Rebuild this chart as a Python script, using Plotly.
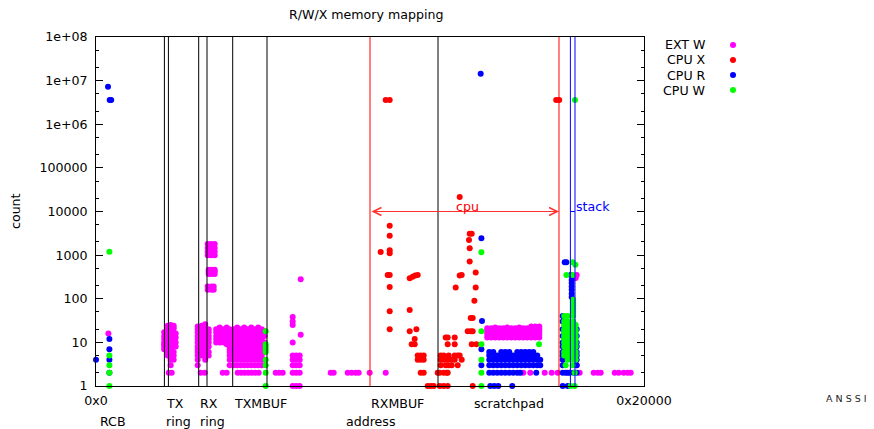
import plotly.graph_objects as go

# ---------------- data (address, [counts]) ----------------
SERIES_NAMES = ["EXT W", "CPU X", "CPU R", "CPU W"]
SERIES_COLORS = ["#ff00ff", "#ff0000", "#0000ff", "#00ff00"]

EXT_W = [
    (2966, [16]),
    # TX ring
    (16312, [7, 8, 9, 10, 12, 14, 17]),
    (17149, [5, 6, 7, 8, 10, 12, 14, 17, 20, 24]),
    (17388, [2]),
    (17867, [3, 4, 5, 6, 7, 8, 10, 12, 14, 17, 20, 25]),
    (18106, [2]),
    (18584, [4, 5, 6, 8, 10, 12, 14, 17, 21, 24]),
    (19063, [8, 10, 13, 16]),
    # RX ring
    (24325, [3, 4, 5, 6, 7, 8, 10, 12, 14, 17, 20, 23]),
    (25042, [2]),
    (25281, [5, 6, 7, 8, 10, 12, 14, 17, 20, 24]),
    (25999, [2]),
    (26118, [4, 5, 6, 7, 8, 10, 12, 14, 17, 20, 26]),
    (26716, [160, 190, 1000, 1200, 1450, 1800]),
    (26956, [5, 6, 8, 10, 12, 14, 17, 20, 370, 420, 465]),
    (27554, [160, 190, 1000, 1200, 1450, 1800]),
    (27673, [370, 420, 465]),
    (28151, [160, 190]),
    (28391, [370, 420, 465, 1000, 1200, 1450, 1800]),
    (28750, [10, 12, 14, 17, 20]),
    (29587, [10, 12, 14, 17, 20, 22]),
    (30304, [2]),
    (30424, [10, 12, 14, 17, 20]),
    (31261, [2, 9, 10, 12, 14, 17, 20, 22]),
    (31979, [3, 4, 5, 6, 7, 8, 10, 12, 14, 17, 20]),
    # TXMBUF
    (32935, [3, 4, 5, 6, 7, 8, 10, 12, 14, 17, 20]),
    (33773, [3, 4, 5, 6, 7, 8, 10, 12, 14, 17, 20, 22]),
    (33892, [2]),
    (34609, [3, 4, 5, 6, 7, 8, 10, 12, 14, 17, 20]),
    (34729, [2]),
    (35446, [3, 4, 5, 6, 7, 8, 10, 12, 14, 17, 20, 22]),
    (35566, [2]),
    (36284, [3, 4, 5, 6, 7, 8, 10, 12, 14, 17, 20]),
    (36403, [2]),
    (37121, [3, 4, 5, 6, 7, 8, 10, 12, 14, 17, 20, 22]),
    (37241, [2]),
    (37958, [3, 4, 5, 6, 7, 8, 10, 12, 14, 17, 20]),
    (38078, [2]),
    (38795, [3, 4, 5, 6, 7, 8, 10, 12, 14, 17, 20, 22]),
    (38915, [2]),
    (39632, [3, 4, 5, 6, 7, 8, 10, 12, 14, 17, 20]),
    (40350, [4, 6, 8, 10, 14, 18]),
    (42981, [2]), (43818, [2]), (44655, [2]),
    (47047, [1, 2, 3, 4, 5, 10, 25, 30, 38]),
    (47884, [1, 2, 3, 4, 5]),
    (48721, [1, 2, 3, 4, 5]),
    (48960, [15, 280]),
    (56136, [2]), (56853, [2]), (60201, [2]), (61158, [2]),
    (62115, [2]), (62833, [2]), (65463, [2]), (69290, [2]),
    # scratchpad
    (93581, [13, 15, 17, 19, 21]),
    (94538, [13, 15, 17, 19, 21]),
    (95495, [13, 15, 17, 19, 21, 22]),
    (96451, [13, 15, 17, 19, 21]),
    (97408, [13, 15, 17, 19, 21]),
    (98365, [13, 15, 17, 19, 21, 22]),
    (99321, [13, 15, 17, 19, 21]),
    (100278, [13, 15, 17, 19, 21]),
    (101235, [13, 15, 17, 19, 21, 22]),
    (102192, [2, 13, 15, 17, 19, 21]),
    (103148, [13, 15, 17, 19, 21]),
    (103866, [2]),
    (104105, [13, 15, 17, 19, 21, 23]),
    (105062, [13, 15, 17, 19, 21, 23]),
    (106018, [13, 15, 17, 19, 21, 23]),
    (107320, [2]), (108995, [2]), (110430, [2]),
    (114734, [10, 20, 300]),
    (114973, [3, 350]),
    (115691, [2]), (119040, [2]), (119997, [2]), (120714, [2]),
    (124063, [2]), (125020, [2]), (126216, [2]), (127173, [2]), (127891, [2]),
]

CPU_X = [
    (68094, [1180]),
    (69290, [3600000]),
    (69769, [350]),
    (70247, [20, 52, 186, 350, 1100, 1300, 2770, 4700, 3600000]),
    (75031, [18, 55, 295]),
    (75510, [9]),
    (75749, [320]),
    (76227, [9, 12]),
    (76347, [340]),
    (76634, [20]),
    (76944, [4, 5, 350]),
    (77661, [2, 4, 5]),
    (78379, [2, 4, 5]),
    (79336, [1]), (80053, [1]), (80771, [1]),
    (81728, [2]),
    (82206, [1, 2]),
    (82446, [3, 4, 5]),
    (83163, [1, 2, 4, 5]),
    (83642, [3, 13]),
    (83881, [2]),
    (84121, [1, 2, 4, 9, 13]),
    (84360, [3, 5]),
    (85077, [3, 4]),
    (85795, [4, 5, 9, 13]),
    (86034, [180]),
    (86512, [3, 5]),
    (86990, [5, 340, 21500]),
    (87469, [4, 350]),
    (88904, [18]),
    (89215, [2220]),
    (89382, [710, 1440, 3070]),
    (89622, [18, 36]),
    (89861, [9, 3070]),
    (90100, [1, 18, 36]),
    (90507, [90]),
    (90818, [180, 400]),
    (90985, [9]),
    (110070, [3600000]),
    (110787, [3600000]),
]

CPU_R = [
    (0, [4]),
    (2870, [7200000]),
    (3205, [2, 4, 7, 12]),
    (3277, [3600000]),
    (3636, [3600000]),
    (92012, [14300000]),
    (92180, [3, 7, 2440]),
    (92323, [31]),
    (94060, [2, 3, 4, 5, 6]),
    (94299, [1]),
    (95017, [2, 3, 4, 5, 6]),
    (95256, [1]),
    (95973, [2, 3, 4, 5]),
    (96212, [1]),
    (96930, [2, 3, 4, 5, 6]),
    (97886, [2, 3, 4, 5, 6]),
    (98843, [2, 3, 4, 5, 6]),
    (99561, [1]),
    (99800, [2, 3, 4, 5]),
    (100757, [2, 3, 4, 5, 6]),
    (101474, [2]),
    (101713, [3, 4, 5, 6]),
    (102670, [3, 4, 5, 6]),
    (103627, [3, 4, 5, 6]),
    (104583, [3, 4, 5, 6]),
    (105301, [2]),
    (105540, [3, 4, 5]),
    (106258, [3, 4]),
    # stack
    (111625, [1, 2, 3, 4, 5, 6, 8, 10, 14, 20, 30, 40]),
    (112103, [690]),
    (112342, [2]),
    (112510, [690]),
    (112821, [1, 2, 7, 8]),
    (113299, [2]),
    (113538, [350]),
    (113777, [110, 130, 160, 190, 230, 270]),
    (114255, [2]),
    (114973, [2, 3, 4, 5, 6, 8, 10, 14, 20]),
]

CPU_W = [
    (3205, [1, 2, 3, 5, 1200]),
    (40589, [1, 2, 3, 4, 6, 7, 8, 9, 18]),
    (92180, [1, 2, 4, 9, 18, 1160]),
    (105957, [9]),
    (114567, [3600000]),
    # stack
    (111984, [5, 6, 8, 10, 12, 14, 17, 20, 25, 30, 40]),
    (112342, [3]),
    (112510, [350]),
    (112821, [4, 5, 6, 7, 8, 10, 12, 14, 17, 20, 25, 30, 40]),
    (113538, [1]),
    (114016, [3, 350, 690]),
    (114136, [4, 5, 6, 7, 8, 10, 12, 14, 17, 20, 25, 30, 40, 50, 60, 70, 80, 95]),
    (114495, [1, 2]),
    (114663, [600]),
    (114734, [4, 5, 6, 8, 10, 12, 14, 17, 20, 25]),
]

SERIES_DATA = [EXT_W, CPU_X, CPU_R, CPU_W]

X_TICK_VALS = [0x0, 0x20000]
X_TICK_TEXT = ["0x0", "0x20000"]
Y_TICK_VALS = [1, 10, 100, 1000, 10000, 100000, 1e6, 1e7, 1e8]
Y_TICK_TEXT = ["1", "10", "100", "1000", "10000", "100000", "1e+06", "1e+07", "1e+08"]
Y_MINOR_VALS = [2, 5, 20, 50, 200, 500, 2e3, 5e3, 2e4, 5e4, 2e5, 5e5, 2e6, 5e6, 2e7, 5e7]

BLACK_LINES = [16360, 17320, 24564, 26549, 32696, 40900, 81800]
CPU_LINES = [65536, 110740]
STACK_LINES = [113467, 114567]

# label text, address, line (1 = upper row, 2 = lower row)
REGION_LABELS = [
    ("RCB", 640, 2),
    ("TX", 16384, 1), ("ring", 16384, 2),
    ("RX", 24576, 1), ("ring", 24576, 2),
    ("TXMBUF", 32768, 1),
    ("RXMBUF", 65536, 1),
    ("scratchpad", 90112, 1),
]

FONT = "DejaVu Sans"
FS = 12.6

# the page body has an 8px margin: size the figure to fit the window
OFF = 8
FIG_W, FIG_H = 874 - OFF, 429 - OFF
# plot area in window pixels
L, R, T, B = 96, 644, 37, 386
W, H = R - L, B - T


def px(xp):
    return (xp - L) / W


def py(yp):
    return (B - yp) / H


# ---------------- figure ----------------
fig = go.Figure()
for name, color, cols in zip(SERIES_NAMES, SERIES_COLORS, SERIES_DATA):
    xs, ys = [], []
    for addr, counts in cols:
        for c in counts:
            xs.append(addr)
            ys.append(c)
    fig.add_trace(go.Scatter(
        x=xs, y=ys, mode="markers", name=name,
        marker=dict(size=6, color=color, line=dict(width=0)),
        cliponaxis=False, showlegend=False, hoverinfo="skip",
    ))

shapes = []
for xv in BLACK_LINES:
    shapes.append(dict(type="line", xref="x", yref="paper", x0=xv, x1=xv, y0=0, y1=1,
                       line=dict(color="#000000", width=1), layer="above"))
for xv in CPU_LINES:
    shapes.append(dict(type="line", xref="x", yref="paper", x0=xv, x1=xv, y0=0, y1=1,
                       line=dict(color="#ff0000", width=1), layer="above"))
for xv in STACK_LINES:
    shapes.append(dict(type="line", xref="x", yref="paper", x0=xv, x1=xv, y0=0, y1=1,
                       line=dict(color="#0000ff", width=1), layer="above"))
# stack arrow (tiny)
shapes.append(dict(type="line", xref="x", yref="paper", x0=STACK_LINES[0], x1=STACK_LINES[1],
                   y0=0.5, y1=0.5, line=dict(color="#0000ff", width=1), layer="above"))

annotations = []
# cpu arrow
annotations.append(dict(
    x=CPU_LINES[1], y=4, ax=CPU_LINES[0], ay=4, xref="x", yref="y", axref="x", ayref="y",
    text="", showarrow=True, arrowhead=5, startarrowhead=5, arrowside="end+start",
    arrowsize=1.6, startarrowsize=1.6, arrowwidth=1, arrowcolor="#ff3030",
    standoff=0, startstandoff=0))
annotations.append(dict(x=88830, y=4, xref="x", yref="y", text="cpu", showarrow=False,
                        xanchor="center", yanchor="middle", yshift=5,
                        font=dict(color="#ff0000", family=FONT, size=FS)))
annotations.append(dict(x=114620, y=4, xref="x", yref="y", text="stack", showarrow=False,
                        xanchor="left", yanchor="middle", yshift=5, borderpad=0,
                        font=dict(color="#0000ff", family=FONT, size=FS)))

for txt, addr, row in REGION_LABELS:
    annotations.append(dict(x=addr, y=py(404 if row == 1 else 421), xref="x", yref="paper",
                            text=txt, showarrow=False, xanchor="left", yanchor="middle",
                            borderpad=0, font=dict(family=FONT, size=FS, color="#000")))

# axis titles
annotations.append(dict(x=px(370), y=py(421), xref="paper", yref="paper", text="address",
                        showarrow=False, xanchor="center", yanchor="middle", borderpad=0,
                        font=dict(family=FONT, size=FS, color="#000")))
annotations.append(dict(x=px(15), y=py(211), xref="paper", yref="paper", text="count",
                        textangle=-90, showarrow=False, xanchor="center", yanchor="middle",
                        font=dict(family=FONT, size=FS, color="#000")))
# title
annotations.append(dict(x=px(366), y=py(15), xref="paper", yref="paper",
                        text="R/W/X memory mapping", showarrow=False,
                        xanchor="center", yanchor="middle",
                        font=dict(family=FONT, size=FS, color="#000")))
# watermark
annotations.append(dict(x=px(868), y=py(398), xref="paper", yref="paper", text="A N S S I",
                        showarrow=False, xanchor="right", yanchor="middle", borderpad=0,
                        font=dict(family=FONT, size=9.5, color="#222222")))

# custom legend (text then marker, gnuplot style)
LEG_ROWS = [45, 60, 75, 90]
for name, color, yrow in zip(SERIES_NAMES, SERIES_COLORS, LEG_ROWS):
    annotations.append(dict(x=px(707), y=py(yrow), xref="paper", yref="paper", text=name,
                            showarrow=False, xanchor="right", yanchor="middle", borderpad=0,
                            font=dict(family=FONT, size=FS, color="#000")))
    shapes.append(dict(type="circle", xref="paper", yref="paper", xsizemode="pixel",
                       ysizemode="pixel", xanchor=px(733), yanchor=py(yrow),
                       x0=-3, x1=3, y0=-3, y1=3, fillcolor=color,
                       line=dict(width=0), layer="above"))

fig.update_layout(
    width=FIG_W, height=FIG_H,
    margin=dict(l=L - OFF, r=874 - R, t=T - OFF, b=429 - B, pad=0),
    paper_bgcolor="white", plot_bgcolor="white",
    font=dict(family=FONT, size=FS, color="#000"),
    shapes=shapes, annotations=annotations, showlegend=False,
    xaxis=dict(range=[0, 0x20000], showgrid=False, zeroline=False, showline=True,
               linecolor="#000", linewidth=1, mirror=True, ticks="",
               tickmode="array", tickvals=X_TICK_VALS, ticktext=X_TICK_TEXT,
               ticklabelstandoff=3),
    yaxis=dict(type="log", range=[0, 8], showgrid=False, zeroline=False, showline=True,
               linecolor="#000", linewidth=1, mirror="ticks", ticks="inside",
               ticklen=7, tickwidth=1, tickcolor="#000",
               tickmode="array", tickvals=Y_TICK_VALS, ticktext=Y_TICK_TEXT,
               ticklabelstandoff=5,
               minor=dict(tickmode="array", tickvals=Y_MINOR_VALS, ticks="inside",
                          ticklen=3, tickcolor="#000", showgrid=False)),
)

fig.write_html("out.html")
